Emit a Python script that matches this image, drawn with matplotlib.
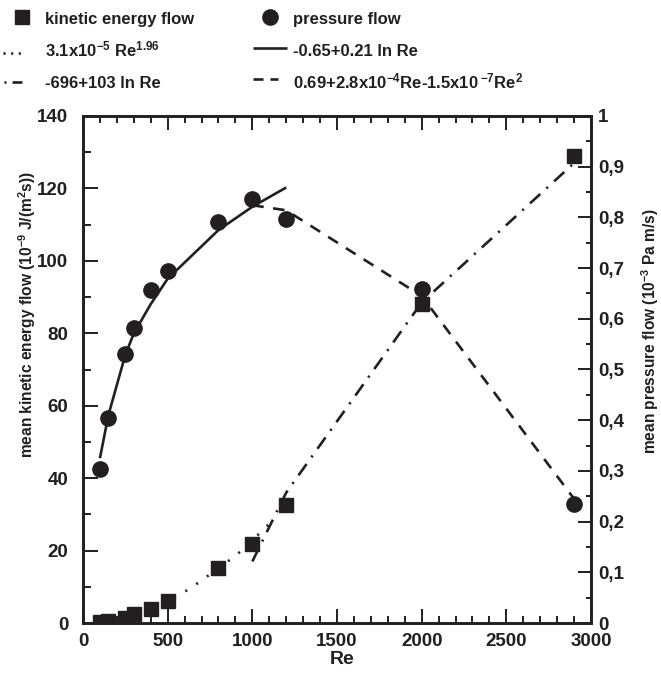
import matplotlib
matplotlib.use('Agg')
import matplotlib.pyplot as plt
from matplotlib import font_manager
from matplotlib.ticker import MultipleLocator, FuncFormatter

# ---------------- data ----------------
re_pts = [100, 150, 250, 300, 400, 500, 800, 1000, 1200, 2000, 2900]
ke_flow = [0.3, 0.6, 1.5, 2.5, 4.0, 6.0, 15.3, 21.7, 32.5, 88.0, 129.0]
p_flow = [0.303, 0.405, 0.531, 0.582, 0.657, 0.695, 0.790, 0.836, 0.797, 0.658, 0.234]

fit_pow_re = [100, 150, 250, 300, 400, 500, 600, 700, 800, 900, 1000, 1100]
fit_pow = [0.3, 0.6, 1.6, 2.3, 4.0, 6.1, 8.6, 11.7, 15.2, 18.5, 22.8, 27.4]

fit_lnke_re = [1000, 1200, 2000, 2900]
fit_lnke = [17.0, 36.0, 88.5, 127.0]

fit_lnp_re = [100, 150, 250, 300, 400, 500, 800, 1000, 1200]
fit_lnp = [0.325, 0.41, 0.529, 0.571, 0.629, 0.679, 0.775, 0.821, 0.859]

fit_quad_re = [1000, 1200, 2000, 2900]
fit_quad = [0.824, 0.814, 0.645, 0.245]

legend_labels = ['kinetic energy flow', 'pressure flow',
                 r'3.1x10$^{-5}$ Re$^{1.96}$', r'-0.65+0.21 ln Re',
                 r'-696+103 ln Re', r'0.69+2.8x10$^{-4}$Re-1.5x10$\,^{-7}$Re$^{2}$']

# ---------------- fonts ----------------
def has_font(name):
    try:
        font_manager.findfont(font_manager.FontProperties(family=name, weight='bold'),
                              fallback_to_default=False)
        return True
    except Exception:
        return False

if has_font('Liberation Sans Narrow'):
    TXT_FAM, LEG_SIZE, LBL_SIZE = 'Liberation Sans Narrow', 14.5, 13.5
else:
    TXT_FAM, LEG_SIZE, LBL_SIZE = 'Liberation Sans', 12.0, 11.2

plt.rcParams['font.family'] = ['Liberation Sans', 'DejaVu Sans']
plt.rcParams['font.weight'] = 'bold'
plt.rcParams['mathtext.fontset'] = 'custom'
plt.rcParams['mathtext.rm'] = TXT_FAM + ':bold'
plt.rcParams['mathtext.bf'] = TXT_FAM + ':bold'
plt.rcParams['mathtext.it'] = TXT_FAM + ':bold'
plt.rcParams['mathtext.default'] = 'bf'
plt.rcParams['lines.scale_dashes'] = False

INK = '#231f20'
W, H = 661, 673

fig = plt.figure(figsize=(W / 100, H / 100), dpi=100)
ax = fig.add_axes([83 / W, (H - 623) / H, 508 / W, 507 / H])
ax2 = ax.twinx()

ax.set_xlim(0, 3000)
ax.set_ylim(0, 140)
ax2.set_ylim(0, 1)

LW = 1.9
# kinetic energy fits
ax.plot(fit_pow_re, fit_pow, color=INK, lw=LW, dashes=(1.5, 7.9), zorder=2)
ax.plot(fit_lnke_re, fit_lnke, color=INK, lw=LW, dashes=(10, 6, 1.5, 6), zorder=2)
ax.plot(re_pts, ke_flow, 's', color=INK, ms=9.6, mec=INK, zorder=3)
# pressure fits
ax2.plot(fit_lnp_re, fit_lnp, color=INK, lw=LW, solid_capstyle='butt', zorder=2)
ax2.plot(fit_quad_re, fit_quad, color=INK, lw=LW, dashes=(8.3, 6.8), zorder=2)
ax2.plot(re_pts, p_flow, 'o', color=INK, ms=11, mec=INK, zorder=3)

for a in (ax, ax2):
    for s in a.spines.values():
        s.set_linewidth(1.9)
        s.set_color(INK)

ax.xaxis.set_major_locator(MultipleLocator(500))
ax.xaxis.set_minor_locator(MultipleLocator(100))
ax.yaxis.set_major_locator(MultipleLocator(20))
ax.yaxis.set_minor_locator(MultipleLocator(10))
ax2.yaxis.set_major_locator(MultipleLocator(0.1))
ax2.yaxis.set_minor_locator(MultipleLocator(0.05))

def comma_fmt(v, pos):
    if abs(v) < 1e-9:
        return '0'
    if abs(v - 1) < 1e-9:
        return '1'
    return ('%.1f' % v).replace('.', ',')

ax2.yaxis.set_major_formatter(FuncFormatter(comma_fmt))

TICK_FS = 13.5
ax.tick_params(axis='x', which='major', direction='in', length=10, width=1.4,
               top=True, bottom=True, pad=7, labelsize=TICK_FS, colors=INK)
ax.tick_params(axis='x', which='minor', direction='in', length=5, width=1.4,
               top=True, bottom=True, colors=INK)
ax.tick_params(axis='y', which='major', direction='in', length=10.8, width=1.4,
               left=True, right=False, pad=10.5, labelsize=TICK_FS, colors=INK)
ax.tick_params(axis='y', which='minor', direction='in', length=5.4, width=1.4,
               left=True, right=False, colors=INK)
ax2.tick_params(axis='y', which='major', direction='in', length=9.4, width=1.4,
                pad=5, labelsize=TICK_FS, colors=INK)
ax2.tick_params(axis='y', which='minor', direction='in', length=3.6, width=1.4, colors=INK)

# axis labels
fig.text(342 / W, 1 - 660 / H, 'Re', ha='center', va='center', fontsize=14,
         fontweight='bold', color=INK)
fig.text(27 / W, 1 - 315 / H, r'mean kinetic energy flow (10$^{-9}$ J/(m$^{2}$s))',
         rotation=90, ha='center', va='center', fontsize=LBL_SIZE, family=TXT_FAM,
         fontweight='bold', color=INK)
fig.text(650 / W, 1 - 331 / H, r'mean pressure flow (10$^{-3}$ Pa m/s)',
         rotation=90, ha='center', va='center', fontsize=LBL_SIZE, family=TXT_FAM,
         fontweight='bold', color=INK)

# legend (drawn in a pixel-coordinate overlay)
lax = fig.add_axes([0, 0, 1, 1], zorder=5)
lax.set_xlim(0, W)
lax.set_ylim(H, 0)
lax.axis('off')
lax.patch.set_alpha(0)

lax.plot([21.7], [16.7], 's', color=INK, ms=9.6)
lax.plot([270], [16.7], 'o', color=INK, ms=11)
lax.plot([3, 23], [52.5, 52.5], color=INK, lw=LW, dashes=(1.5, 4.0))
lax.plot([253, 287], [48.3, 48.3], color=INK, lw=LW, solid_capstyle='butt')
lax.plot([4, 6], [81.7, 81.7], color=INK, lw=LW, solid_capstyle='butt')
lax.plot([12, 22], [81.7, 81.7], color=INK, lw=LW, solid_capstyle='butt')
lax.plot([253, 263], [78.5, 78.5], color=INK, lw=LW, solid_capstyle='butt')
lax.plot([270, 278], [78.5, 78.5], color=INK, lw=LW, solid_capstyle='butt')

text_pos = [(45, 24), (293, 24), (45, 56.5), (293, 56.5), (45, 88.3), (293, 88.3)]
for (tx, ty), lab in zip(text_pos, legend_labels):
    lax.text(tx, ty, lab, ha='left', va='baseline', fontsize=LEG_SIZE,
             family=TXT_FAM, fontweight='bold', color=INK)

fig.savefig('out.png', dpi=100)
